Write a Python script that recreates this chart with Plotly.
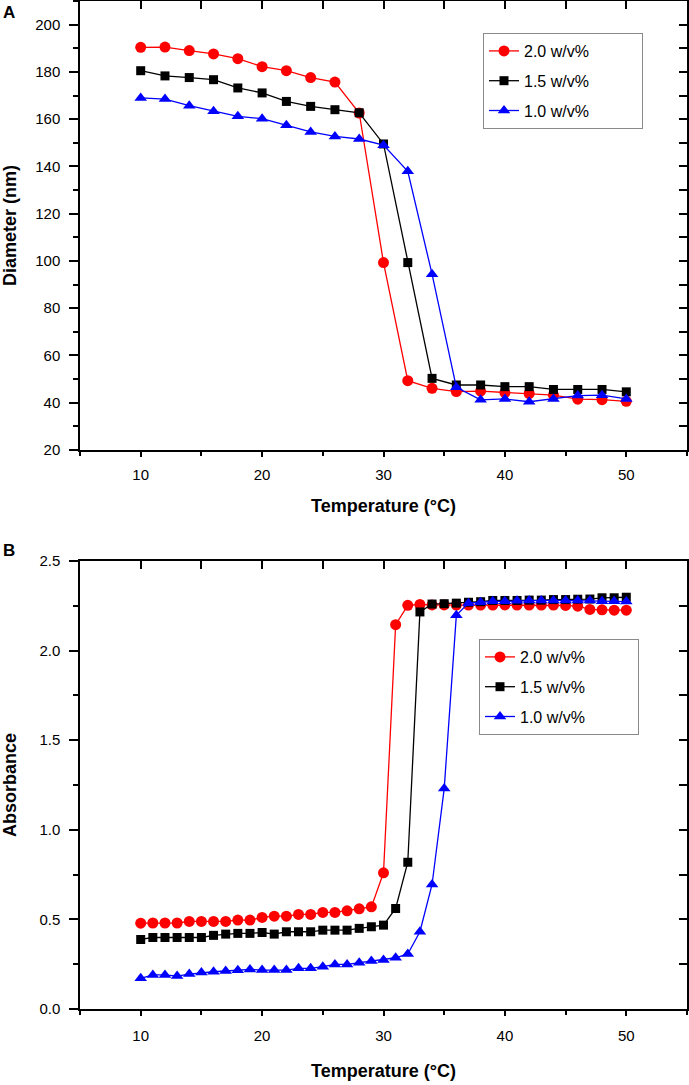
import plotly.graph_objects as go

# ---- Panel A: diameter vs temperature ----
temp_a = [10, 12, 14, 16, 18, 20, 22, 24, 26, 28, 30, 32, 34, 36, 38, 40, 42, 44, 46, 48, 50]
diam_20 = [190.4, 190.5, 189.0, 187.6, 185.6, 182.2, 180.5, 177.6, 175.7, 162.6, 99.3,
           49.3, 46.1, 44.7, 44.9, 44.3, 43.9, 43.2, 41.5, 41.3, 40.6]
diam_15 = [180.5, 178.3, 177.6, 176.7, 173.2, 171.1, 167.5, 165.4, 164.0, 162.7, 149.5,
           99.3, 50.3, 47.5, 47.5, 46.8, 46.8, 45.6, 45.6, 45.6, 44.6]
diam_10 = [169.0, 168.5, 165.7, 163.3, 161.2, 160.2, 157.4, 154.6, 152.7, 151.6, 149.0,
           137.9, 94.4, 46.5, 41.2, 41.6, 40.4, 41.6, 43.0, 43.2, 41.6]

# ---- Panel B: absorbance vs temperature ----
temp_b = list(range(10, 51))
abs_20 = [0.479, 0.480, 0.480, 0.480, 0.489, 0.489, 0.489, 0.489, 0.496, 0.496,
          0.511, 0.518, 0.518, 0.528, 0.528, 0.539, 0.539, 0.548, 0.559, 0.570,
          0.760, 2.145, 2.253, 2.258, 2.255, 2.255, 2.254, 2.254, 2.254, 2.254,
          2.255, 2.254, 2.254, 2.254, 2.254, 2.252, 2.248, 2.230, 2.228, 2.226, 2.226]
abs_15 = [0.388, 0.399, 0.399, 0.399, 0.399, 0.399, 0.411, 0.418, 0.422, 0.422,
          0.427, 0.418, 0.431, 0.431, 0.431, 0.440, 0.440, 0.440, 0.450, 0.459,
          0.468, 0.561, 0.819, 2.216, 2.260, 2.262, 2.265, 2.270, 2.273, 2.280,
          2.280, 2.280, 2.282, 2.282, 2.285, 2.285, 2.287, 2.288, 2.295, 2.295, 2.298]
abs_10 = [0.171, 0.190, 0.190, 0.184, 0.195, 0.203, 0.208, 0.212, 0.216, 0.221,
          0.217, 0.217, 0.217, 0.227, 0.227, 0.236, 0.249, 0.249, 0.258, 0.268,
          0.273, 0.286, 0.307, 0.431, 0.695, 1.230, 2.197, 2.265, 2.270, 2.275,
          2.275, 2.278, 2.280, 2.280, 2.280, 2.280, 2.280, 2.280, 2.276, 2.275, 2.274]

series_names = ["2.0 w/v%", "1.5 w/v%", "1.0 w/v%"]
colors = ["#ff0000", "#000000", "#0000ff"]
symbols = ["circle", "square", "triangle-up"]
msizes = [11, 9, 11]

FONT = "Liberation Sans, Arial, sans-serif"
LEGEND_PAD = "\u2003\u2003\u2003"  # widen legend box like the original

fig = go.Figure()

for i, ys in enumerate([diam_20, diam_15, diam_10]):
    fig.add_trace(go.Scatter(
        x=temp_a, y=ys, name=series_names[i] + LEGEND_PAD, mode="lines+markers",
        line=dict(color=colors[i], width=1.3),
        marker=dict(symbol=symbols[i], size=msizes[i], color=colors[i], line=dict(width=0)),
        xaxis="x", yaxis="y", legend="legend", legendgroup="a" + str(i),
    ))

for i, ys in enumerate([abs_20, abs_15, abs_10]):
    fig.add_trace(go.Scatter(
        x=temp_b, y=ys, name=series_names[i] + LEGEND_PAD, mode="lines+markers",
        line=dict(color=colors[i], width=1.3),
        marker=dict(symbol=symbols[i], size=msizes[i], color=colors[i], line=dict(width=0)),
        xaxis="x2", yaxis="y2", legend="legend2", legendgroup="b" + str(i),
    ))

# invisible helpers so the mirrored (top / right) frame axes get drawn
for xa, ya, xs, ys in [("x3", "y", temp_a, diam_20), ("x", "y3", temp_a, diam_20),
                       ("x4", "y2", temp_b, abs_20), ("x2", "y4", temp_b, abs_20)]:
    fig.add_trace(go.Scatter(x=xs, y=ys, xaxis=xa, yaxis=ya, mode="markers",
                             marker=dict(opacity=0, size=1), showlegend=False, hoverinfo="skip"))

tickfont = dict(family=FONT, size=15, color="#000")
titlefont = dict(family=FONT, size=18, color="#000", weight="bold")

def xax(anchor, title, standoff, lblstand):
    return dict(
        range=[5, 55], tick0=0, dtick=10, ticks="outside", ticklen=5, tickwidth=1.5,
        tickcolor="#000", showline=True, linecolor="#000", linewidth=1.5,
        showgrid=False, zeroline=False, tickfont=tickfont, ticklabelstandoff=lblstand,
        minor=dict(dtick=5, tick0=0, ticks="outside", ticklen=4, tickwidth=1.5, tickcolor="#000", showgrid=False),
        title=dict(text=title, font=titlefont, standoff=standoff),
        anchor=anchor, automargin=False,
    )

def yax(domain, rng, dtick, fmt, title, standoff, anchor):
    return dict(
        domain=domain, range=rng, tick0=0, dtick=dtick, ticks="outside", ticklen=9, tickwidth=1.5,
        tickcolor="#000", showline=True, linecolor="#000", linewidth=1.5,
        showgrid=False, zeroline=False, tickfont=tickfont, tickformat=fmt, ticklabelstandoff=6,
        minor=dict(dtick=dtick / 2, tick0=0, ticks="outside", ticklen=5, tickwidth=1.5, tickcolor="#000", showgrid=False),
        title=dict(text=title, font=titlefont, standoff=standoff),
        anchor=anchor, automargin=False,
    )

def mirror_x(over, anchor):
    return dict(overlaying=over, anchor=anchor, side="top", range=[5, 55], tick0=0, dtick=5,
                ticks="inside", ticklen=8, tickwidth=1.5, tickcolor="#000", showticklabels=False,
                showline=True, linecolor="#000", linewidth=1.5, showgrid=False, zeroline=False)

def mirror_y(over, anchor, rng, dtick):
    return dict(overlaying=over, anchor=anchor, side="right", range=rng, tick0=0, dtick=dtick,
                ticks="inside", ticklen=8, tickwidth=1.5, tickcolor="#000", showticklabels=False,
                showline=True, linecolor="#000", linewidth=1.5, showgrid=False, zeroline=False)

dom_a = [0.5546, 1.0]
dom_b = [0.0, 0.4444]

legend_common = dict(
    bgcolor="rgba(255,255,255,1)", bordercolor="#8a8a8a", borderwidth=1,
    font=dict(family=FONT, size=16, color="#000"), traceorder="grouped",
    tracegroupgap=6, xanchor="left", yanchor="top",
)

plot_w = 689 - 80 - 2
plot_h = 1085 - 1 - 76

def px_x(px):
    return (px - 80) / plot_w

def px_y(py):
    return (1009 - py) / plot_h

fig.update_layout(
    width=689, height=1085,
    margin=dict(l=80, r=2, t=1, b=76),
    paper_bgcolor="white", plot_bgcolor="white",
    showlegend=True,
    xaxis=xax("y", "Temperature (°C)", 18, 5),
    yaxis=yax(dom_a, [20, 210], 20, "d", "Diameter (nm)", 17, "x"),
    xaxis2=xax("y2", "Temperature (°C)", 22, 7),
    yaxis2=yax(dom_b, [0, 2.5], 0.5, ".1f", "Absorbance", 25, "x2"),
    xaxis3=mirror_x("x", "y"),
    yaxis3=mirror_y("y", "x", [20, 210], 10),
    xaxis4=mirror_x("x2", "y2"),
    yaxis4=mirror_y("y2", "x2", [0, 2.5], 0.25),
    legend=dict(x=px_x(483), y=px_y(33), **legend_common),
    legend2=dict(x=px_x(479), y=px_y(639), **legend_common),
    annotations=[
        dict(text="<b>A</b>", x=px_x(9), y=px_y(13), xref="paper", yref="paper", showarrow=False,
             xanchor="center", yanchor="middle", font=dict(family=FONT, size=17, color="#000")),
        dict(text="<b>B</b>", x=px_x(9), y=px_y(550), xref="paper", yref="paper", showarrow=False,
             xanchor="center", yanchor="middle", font=dict(family=FONT, size=17, color="#000")),
    ],
)

fig.write_html("out.html", config={"displayModeBar": False},
               post_script="document.body.style.margin='0px';")
